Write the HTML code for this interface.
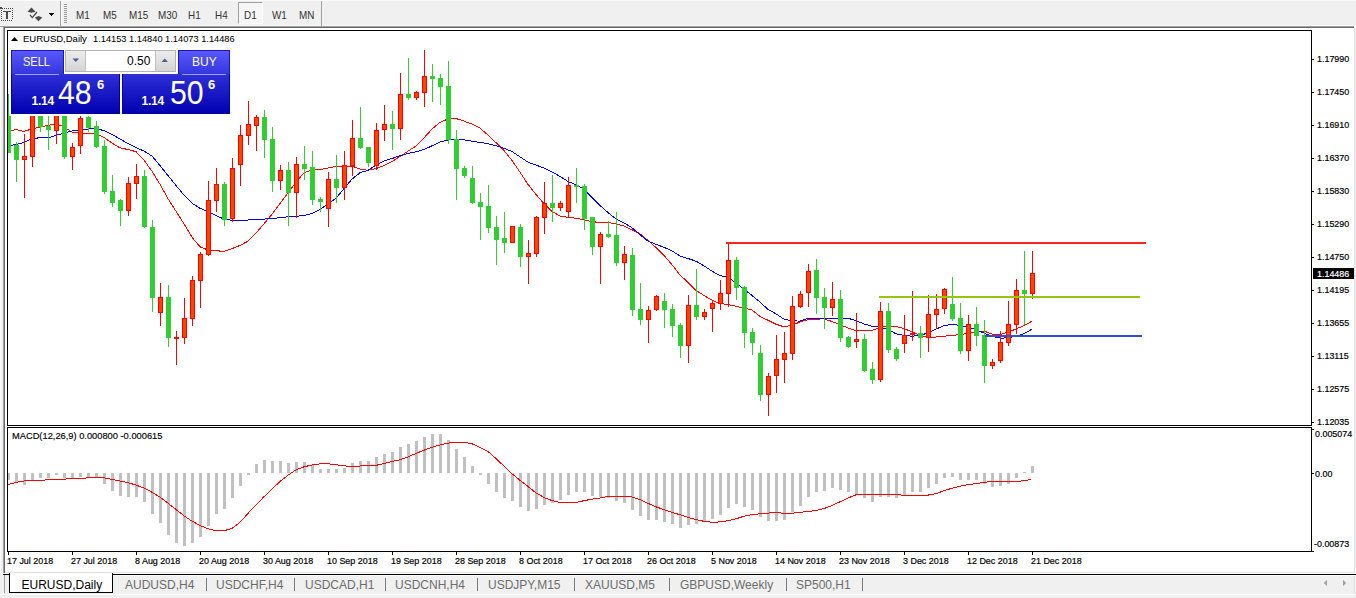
<!DOCTYPE html>
<html><head><meta charset="utf-8"><style>
*{margin:0;padding:0;box-sizing:border-box}
html,body{width:1356px;height:598px;overflow:hidden;background:#fff;font-family:"Liberation Sans",sans-serif}
.a{position:absolute}
.pl{-webkit-text-stroke:0.2px currentColor;position:absolute;left:1317px;font-size:9.6px;line-height:12px;transform:scaleX(0.93);transform-origin:0 0;color:#000;white-space:nowrap}
.dl{-webkit-text-stroke:0.2px #000;position:absolute;top:555px;font-size:9.6px;line-height:12px;transform:scaleX(0.93);transform-origin:0 0;color:#000;white-space:nowrap}
.tf{position:absolute;top:10px;font-size:10.3px;line-height:12px;color:#333;transform:scaleX(0.96);transform-origin:0 0;white-space:nowrap}
.tab{position:absolute;top:578px;font-size:12px;line-height:15px;color:#6d6d6d;white-space:nowrap}
.tsep{position:absolute;top:578px;width:1px;height:13px;background:#7a7a7a}
</style></head><body>
<div class="a" style="left:0;top:0;width:1356px;height:25px;background:#f0f0f0"></div>
<div class="a" style="left:0;top:0;width:1356px;height:1px;background:#fafafa"></div>
<div class="a" style="left:0;top:25px;width:1356px;height:1px;background:#f8f8f8"></div>
<div class="a" style="left:0;top:26px;width:1354px;height:1px;background:#a0a0a0"></div>
<div class="a" style="left:3px;top:27px;width:1351px;height:1px;background:#696969"></div>
<div class="a" style="left:0;top:27px;width:3px;height:546px;background:#f0f0f0"></div><div class="a" style="left:0;top:27px;width:1px;height:546px;background:#fbfbfb"></div>
<div class="a" style="left:3px;top:27px;width:1px;height:546px;background:#a0a0a0"></div>
<div class="a" style="left:4px;top:27px;width:1px;height:546px;background:#696969"></div>
<div class="a" style="left:1354px;top:28px;width:1px;height:545px;background:#e3e3e3"></div>
<div class="a" style="left:1355px;top:27px;width:1px;height:546px;background:#f0f0f0"></div>
<!-- toolbar icons -->
<svg class="a" style="left:0;top:0" width="70" height="26" shape-rendering="crispEdges">
<g fill="#4a4a4a">
<rect x="0" y="7" width="2" height="2"/><rect x="2" y="8" width="1" height="1"/><rect x="4" y="8" width="1" height="1"/><rect x="6" y="8" width="1" height="1"/><rect x="8" y="8" width="1" height="1"/><rect x="10" y="8" width="1" height="1"/><rect x="12" y="8" width="1" height="1"/>
<rect x="1" y="20" width="1" height="1"/><rect x="3" y="20" width="1" height="1"/><rect x="5" y="20" width="1" height="1"/><rect x="7" y="20" width="1" height="1"/><rect x="9" y="20" width="1" height="1"/><rect x="11" y="20" width="1" height="1"/>
<rect x="1" y="10" width="1" height="1"/><rect x="1" y="12" width="1" height="1"/><rect x="1" y="14" width="1" height="1"/><rect x="1" y="16" width="1" height="1"/><rect x="1" y="18" width="1" height="1"/>
<rect x="12" y="10" width="1" height="1"/><rect x="12" y="12" width="1" height="1"/><rect x="12" y="14" width="1" height="1"/><rect x="12" y="16" width="1" height="1"/><rect x="12" y="18" width="1" height="1"/>
<rect x="3" y="11" width="8" height="1"/><rect x="6" y="11" width="2" height="8"/>
<path d="M31.5 7.5 L35.5 11.8 L31.5 12.8 L27.5 11.8 Z" shape-rendering="auto"/>
<path d="M30 15 L32.3 17.6 L37 12" stroke="#4a4a4a" stroke-width="1.3" fill="none" shape-rendering="auto"/>
<path d="M38.5 16 L42.3 17.6 L38.5 21.2 L34.8 17.6 Z" shape-rendering="auto"/>
</g>
<path d="M49 13 L54 13 L51.5 16 Z" fill="#000"/>
<rect x="60" y="1" width="1" height="25" fill="#a0a0a0"/><rect x="61" y="1" width="1" height="25" fill="#fcfcfc"/>
<g fill="#9a9a9a"><rect x="64" y="4" width="3" height="1"/><rect x="64" y="6" width="3" height="1"/><rect x="64" y="8" width="3" height="1"/><rect x="64" y="10" width="3" height="1"/><rect x="64" y="12" width="3" height="1"/><rect x="64" y="14" width="3" height="1"/><rect x="64" y="16" width="3" height="1"/><rect x="64" y="18" width="3" height="1"/><rect x="64" y="20" width="3" height="1"/><rect x="64" y="22" width="3" height="1"/></g>
</svg>
<div class="a" style="left:238px;top:2px;width:25px;height:22px;border:1px solid #fff;border-top-color:#a0a0a0;border-left-color:#a0a0a0;background:#f6f6f6"></div>
<div class="tf" style="left:76px">M1</div><div class="tf" style="left:103px">M5</div><div class="tf" style="left:129px">M15</div><div class="tf" style="left:158px">M30</div><div class="tf" style="left:188px">H1</div><div class="tf" style="left:215px">H4</div><div class="tf" style="left:244px">D1</div><div class="tf" style="left:272px">W1</div><div class="tf" style="left:299px">MN</div>
<div class="a" style="left:321px;top:1px;width:1px;height:25px;background:#a0a0a0"></div>
<!-- chart svg -->
<svg class="a" style="left:0;top:0" width="1356" height="598">
<defs><clipPath id="cm"><rect x="8" y="31" width="1303" height="394"/></clipPath><clipPath id="cd"><rect x="8" y="428" width="1303" height="123"/></clipPath></defs>
<g clip-path="url(#cm)">
<polyline points="8.0,132.0 16.0,129.4 24.0,131.4 32.0,128.9 40.0,127.2 48.0,125.2 56.0,124.3 64.0,126.7 72.0,132.2 80.0,133.3 88.0,133.3 96.0,133.4 104.0,137.5 112.0,143.0 120.0,147.9 128.0,149.5 136.0,151.7 144.0,160.1 152.0,171.2 160.0,184.3 168.0,198.7 176.0,211.3 184.0,223.8 192.0,237.3 200.0,246.8 208.0,250.0 216.0,250.7 224.0,251.4 232.0,248.6 240.0,245.4 248.0,241.2 256.0,233.0 264.0,223.9 272.0,214.3 280.0,203.5 288.0,192.8 296.0,182.1 304.0,172.8 312.0,170.1 320.0,169.7 328.0,168.1 336.0,166.4 344.0,166.1 352.0,166.1 360.0,169.0 368.0,170.3 376.0,168.6 384.0,165.5 392.0,161.6 400.0,156.5 408.0,151.2 416.0,146.0 424.0,137.9 432.0,129.0 440.0,122.3 448.0,119.0 456.0,118.5 464.0,121.1 472.0,124.1 480.0,128.1 488.0,135.1 496.0,142.7 504.0,150.5 512.0,160.4 520.0,172.2 528.0,184.4 536.0,194.5 544.0,203.6 552.0,211.3 560.0,216.2 568.0,217.3 576.0,218.3 584.0,219.7 592.0,221.7 600.0,222.4 608.0,222.6 616.0,223.8 624.0,226.0 632.0,229.8 640.0,233.8 648.0,240.5 656.0,247.5 664.0,255.5 672.0,264.7 680.0,275.0 688.0,282.4 696.0,290.4 704.0,295.5 712.0,300.2 720.0,303.5 728.0,304.5 736.0,306.3 744.0,308.0 752.0,310.1 760.0,316.4 768.0,320.3 776.0,324.2 784.0,326.8 792.0,325.2 800.0,322.0 808.0,319.6 816.0,319.1 824.0,318.9 832.0,321.5 840.0,324.7 848.0,327.9 856.0,330.6 864.0,331.0 872.0,330.4 880.0,327.4 888.0,326.0 896.0,326.5 904.0,328.5 912.0,331.9 920.0,335.4 928.0,337.3 936.0,337.0 944.0,336.2 952.0,335.5 960.0,334.6 968.0,333.4 976.0,332.1 984.0,331.1 992.0,334.1 1000.0,334.5 1008.0,332.2 1016.0,329.0 1024.0,325.7 1032.0,321.2" fill="none" stroke="#ff0000" stroke-width="1" shape-rendering="crispEdges"/>
<polyline points="8.0,146.0 16.0,144.4 24.0,142.4 32.0,138.7 40.0,137.7 48.0,138.0 56.0,135.4 64.0,133.1 72.0,130.9 80.0,129.8 88.0,129.0 96.0,128.7 104.0,130.6 112.0,134.3 120.0,139.0 128.0,143.5 136.0,147.7 144.0,151.0 152.0,156.1 160.0,165.6 168.0,175.6 176.0,185.5 184.0,195.1 192.0,203.2 200.0,208.3 208.0,211.6 216.0,215.7 224.0,219.1 232.0,220.4 240.0,220.3 248.0,220.0 256.0,219.7 264.0,219.1 272.0,218.5 280.0,217.7 288.0,216.8 296.0,216.3 304.0,215.5 312.0,213.6 320.0,209.4 328.0,204.0 336.0,198.2 344.0,188.6 352.0,179.1 360.0,172.7 368.0,170.3 376.0,165.0 384.0,161.0 392.0,158.5 400.0,155.8 408.0,153.5 416.0,151.7 424.0,149.6 432.0,145.8 440.0,142.0 448.0,140.1 456.0,139.2 464.0,139.8 472.0,141.2 480.0,142.4 488.0,143.7 496.0,145.7 504.0,148.3 512.0,151.4 520.0,156.8 528.0,162.2 536.0,165.1 544.0,168.0 552.0,171.9 560.0,176.4 568.0,181.5 576.0,184.8 584.0,188.9 592.0,197.7 600.0,205.4 608.0,212.6 616.0,218.9 624.0,222.8 632.0,227.8 640.0,234.7 648.0,241.1 656.0,244.3 664.0,247.3 672.0,250.9 680.0,256.0 688.0,258.5 696.0,261.2 704.0,265.9 712.0,271.2 720.0,275.6 728.0,277.5 736.0,282.8 744.0,289.1 752.0,295.5 760.0,302.0 768.0,309.5 776.0,313.8 784.0,319.1 792.0,320.8 800.0,321.1 808.0,318.2 816.0,318.2 824.0,318.2 832.0,318.2 840.0,318.2 848.0,318.3 856.0,320.6 864.0,323.9 872.0,326.3 880.0,327.3 888.0,329.3 896.0,333.8 904.0,335.5 912.0,336.2 920.0,335.3 928.0,333.0 936.0,329.1 944.0,325.6 952.0,324.4 960.0,325.4 968.0,327.3 976.0,329.6 984.0,333.1 992.0,336.3 1000.0,338.1 1008.0,337.9 1016.0,336.1 1024.0,333.7 1032.0,329.1" fill="none" stroke="#0000e8" stroke-width="1" shape-rendering="crispEdges"/>
</g>
<g clip-path="url(#cm)" shape-rendering="crispEdges">
<rect x="8" y="94" width="1" height="59" fill="#32cd32"/>
<rect x="6" y="116" width="5" height="37" fill="#32cd32"/>
<rect x="16" y="142" width="1" height="40" fill="#32cd32"/>
<rect x="14" y="145" width="5" height="15" fill="#32cd32"/>
<rect x="24" y="134" width="1" height="64" fill="#ff0000"/>
<rect x="22" y="156" width="5" height="4" fill="#ff0000"/>
<rect x="23" y="157" width="3" height="2" fill="#ff4500"/>
<rect x="32" y="100" width="1" height="67" fill="#ff0000"/>
<rect x="30" y="100" width="5" height="57" fill="#ff0000"/>
<rect x="31" y="101" width="3" height="55" fill="#ff4500"/>
<rect x="40" y="100" width="1" height="32" fill="#32cd32"/>
<rect x="38" y="100" width="5" height="27" fill="#32cd32"/>
<rect x="48" y="100" width="1" height="50" fill="#32cd32"/>
<rect x="46" y="126" width="5" height="4" fill="#32cd32"/>
<rect x="56" y="100" width="1" height="44" fill="#ff0000"/>
<rect x="54" y="100" width="5" height="31" fill="#ff0000"/>
<rect x="55" y="101" width="3" height="29" fill="#ff4500"/>
<rect x="64" y="100" width="1" height="59" fill="#32cd32"/>
<rect x="62" y="100" width="5" height="57" fill="#32cd32"/>
<rect x="72" y="143" width="1" height="27" fill="#ff0000"/>
<rect x="70" y="147" width="5" height="10" fill="#ff0000"/>
<rect x="71" y="148" width="3" height="8" fill="#ff4500"/>
<rect x="80" y="116" width="1" height="38" fill="#ff0000"/>
<rect x="78" y="118" width="5" height="28" fill="#ff0000"/>
<rect x="79" y="119" width="3" height="26" fill="#ff4500"/>
<rect x="88" y="116" width="1" height="16" fill="#32cd32"/>
<rect x="86" y="117" width="5" height="11" fill="#32cd32"/>
<rect x="96" y="121" width="1" height="27" fill="#32cd32"/>
<rect x="94" y="126" width="5" height="21" fill="#32cd32"/>
<rect x="104" y="140" width="1" height="54" fill="#32cd32"/>
<rect x="102" y="146" width="5" height="46" fill="#32cd32"/>
<rect x="112" y="175" width="1" height="32" fill="#32cd32"/>
<rect x="110" y="191" width="5" height="12" fill="#32cd32"/>
<rect x="120" y="199" width="1" height="27" fill="#32cd32"/>
<rect x="118" y="200" width="5" height="11" fill="#32cd32"/>
<rect x="128" y="177" width="1" height="39" fill="#ff0000"/>
<rect x="126" y="183" width="5" height="28" fill="#ff0000"/>
<rect x="127" y="184" width="3" height="26" fill="#ff4500"/>
<rect x="136" y="164" width="1" height="35" fill="#ff0000"/>
<rect x="134" y="176" width="5" height="8" fill="#ff0000"/>
<rect x="135" y="177" width="3" height="6" fill="#ff4500"/>
<rect x="144" y="170" width="1" height="58" fill="#32cd32"/>
<rect x="142" y="176" width="5" height="51" fill="#32cd32"/>
<rect x="152" y="220" width="1" height="92" fill="#32cd32"/>
<rect x="150" y="227" width="5" height="71" fill="#32cd32"/>
<rect x="160" y="283" width="1" height="43" fill="#ff0000"/>
<rect x="158" y="297" width="5" height="16" fill="#ff0000"/>
<rect x="159" y="298" width="3" height="14" fill="#ff4500"/>
<rect x="168" y="285" width="1" height="62" fill="#32cd32"/>
<rect x="166" y="297" width="5" height="41" fill="#32cd32"/>
<rect x="176" y="331" width="1" height="34" fill="#ff0000"/>
<rect x="174" y="337" width="5" height="2" fill="#ff0000"/>
<rect x="184" y="298" width="1" height="46" fill="#ff0000"/>
<rect x="182" y="318" width="5" height="20" fill="#ff0000"/>
<rect x="183" y="319" width="3" height="18" fill="#ff4500"/>
<rect x="192" y="276" width="1" height="50" fill="#ff0000"/>
<rect x="190" y="280" width="5" height="39" fill="#ff0000"/>
<rect x="191" y="281" width="3" height="37" fill="#ff4500"/>
<rect x="200" y="252" width="1" height="56" fill="#ff0000"/>
<rect x="198" y="254" width="5" height="27" fill="#ff0000"/>
<rect x="199" y="255" width="3" height="25" fill="#ff4500"/>
<rect x="208" y="181" width="1" height="75" fill="#ff0000"/>
<rect x="206" y="200" width="5" height="55" fill="#ff0000"/>
<rect x="207" y="201" width="3" height="53" fill="#ff4500"/>
<rect x="216" y="168" width="1" height="44" fill="#ff0000"/>
<rect x="214" y="184" width="5" height="17" fill="#ff0000"/>
<rect x="215" y="185" width="3" height="15" fill="#ff4500"/>
<rect x="224" y="182" width="1" height="44" fill="#32cd32"/>
<rect x="222" y="184" width="5" height="36" fill="#32cd32"/>
<rect x="232" y="158" width="1" height="64" fill="#ff0000"/>
<rect x="230" y="168" width="5" height="51" fill="#ff0000"/>
<rect x="231" y="169" width="3" height="49" fill="#ff4500"/>
<rect x="240" y="125" width="1" height="61" fill="#ff0000"/>
<rect x="238" y="135" width="5" height="30" fill="#ff0000"/>
<rect x="239" y="136" width="3" height="28" fill="#ff4500"/>
<rect x="248" y="101" width="1" height="44" fill="#ff0000"/>
<rect x="246" y="124" width="5" height="12" fill="#ff0000"/>
<rect x="247" y="125" width="3" height="10" fill="#ff4500"/>
<rect x="256" y="115" width="1" height="36" fill="#ff0000"/>
<rect x="254" y="117" width="5" height="9" fill="#ff0000"/>
<rect x="255" y="118" width="3" height="7" fill="#ff4500"/>
<rect x="264" y="110" width="1" height="48" fill="#32cd32"/>
<rect x="262" y="117" width="5" height="23" fill="#32cd32"/>
<rect x="272" y="127" width="1" height="65" fill="#32cd32"/>
<rect x="270" y="139" width="5" height="42" fill="#32cd32"/>
<rect x="280" y="165" width="1" height="25" fill="#ff0000"/>
<rect x="278" y="170" width="5" height="11" fill="#ff0000"/>
<rect x="279" y="171" width="3" height="9" fill="#ff4500"/>
<rect x="288" y="162" width="1" height="64" fill="#32cd32"/>
<rect x="286" y="170" width="5" height="23" fill="#32cd32"/>
<rect x="296" y="157" width="1" height="61" fill="#ff0000"/>
<rect x="294" y="164" width="5" height="29" fill="#ff0000"/>
<rect x="295" y="165" width="3" height="27" fill="#ff4500"/>
<rect x="304" y="146" width="1" height="34" fill="#32cd32"/>
<rect x="302" y="164" width="5" height="5" fill="#32cd32"/>
<rect x="312" y="151" width="1" height="54" fill="#32cd32"/>
<rect x="310" y="167" width="5" height="33" fill="#32cd32"/>
<rect x="320" y="197" width="1" height="15" fill="#32cd32"/>
<rect x="318" y="199" width="5" height="3" fill="#32cd32"/>
<rect x="328" y="172" width="1" height="55" fill="#ff0000"/>
<rect x="326" y="179" width="5" height="30" fill="#ff0000"/>
<rect x="327" y="180" width="3" height="28" fill="#ff4500"/>
<rect x="336" y="155" width="1" height="48" fill="#32cd32"/>
<rect x="334" y="179" width="5" height="9" fill="#32cd32"/>
<rect x="344" y="151" width="1" height="49" fill="#ff0000"/>
<rect x="342" y="165" width="5" height="23" fill="#ff0000"/>
<rect x="343" y="166" width="3" height="21" fill="#ff4500"/>
<rect x="352" y="120" width="1" height="56" fill="#ff0000"/>
<rect x="350" y="138" width="5" height="28" fill="#ff0000"/>
<rect x="351" y="139" width="3" height="26" fill="#ff4500"/>
<rect x="360" y="107" width="1" height="42" fill="#32cd32"/>
<rect x="358" y="138" width="5" height="10" fill="#32cd32"/>
<rect x="368" y="147" width="1" height="20" fill="#32cd32"/>
<rect x="366" y="147" width="5" height="16" fill="#32cd32"/>
<rect x="376" y="123" width="1" height="47" fill="#ff0000"/>
<rect x="374" y="130" width="5" height="36" fill="#ff0000"/>
<rect x="375" y="131" width="3" height="34" fill="#ff4500"/>
<rect x="384" y="105" width="1" height="36" fill="#ff0000"/>
<rect x="382" y="124" width="5" height="6" fill="#ff0000"/>
<rect x="383" y="125" width="3" height="4" fill="#ff4500"/>
<rect x="392" y="111" width="1" height="39" fill="#32cd32"/>
<rect x="390" y="124" width="5" height="5" fill="#32cd32"/>
<rect x="400" y="73" width="1" height="67" fill="#ff0000"/>
<rect x="398" y="94" width="5" height="35" fill="#ff0000"/>
<rect x="399" y="95" width="3" height="33" fill="#ff4500"/>
<rect x="408" y="58" width="1" height="42" fill="#32cd32"/>
<rect x="406" y="94" width="5" height="4" fill="#32cd32"/>
<rect x="416" y="91" width="1" height="9" fill="#ff0000"/>
<rect x="414" y="92" width="5" height="6" fill="#ff0000"/>
<rect x="415" y="93" width="3" height="4" fill="#ff4500"/>
<rect x="424" y="50" width="1" height="57" fill="#ff0000"/>
<rect x="422" y="76" width="5" height="17" fill="#ff0000"/>
<rect x="423" y="77" width="3" height="15" fill="#ff4500"/>
<rect x="432" y="64" width="1" height="38" fill="#32cd32"/>
<rect x="430" y="76" width="5" height="3" fill="#32cd32"/>
<rect x="440" y="74" width="1" height="31" fill="#32cd32"/>
<rect x="438" y="78" width="5" height="9" fill="#32cd32"/>
<rect x="448" y="61" width="1" height="83" fill="#32cd32"/>
<rect x="446" y="86" width="5" height="54" fill="#32cd32"/>
<rect x="456" y="130" width="1" height="70" fill="#32cd32"/>
<rect x="454" y="139" width="5" height="30" fill="#32cd32"/>
<rect x="464" y="166" width="1" height="12" fill="#32cd32"/>
<rect x="462" y="168" width="5" height="8" fill="#32cd32"/>
<rect x="472" y="166" width="1" height="38" fill="#32cd32"/>
<rect x="470" y="178" width="5" height="25" fill="#32cd32"/>
<rect x="480" y="193" width="1" height="47" fill="#32cd32"/>
<rect x="478" y="202" width="5" height="5" fill="#32cd32"/>
<rect x="488" y="185" width="1" height="48" fill="#32cd32"/>
<rect x="486" y="206" width="5" height="22" fill="#32cd32"/>
<rect x="496" y="216" width="1" height="49" fill="#32cd32"/>
<rect x="494" y="227" width="5" height="13" fill="#32cd32"/>
<rect x="504" y="212" width="1" height="41" fill="#32cd32"/>
<rect x="502" y="238" width="5" height="5" fill="#32cd32"/>
<rect x="512" y="226" width="1" height="17" fill="#ff0000"/>
<rect x="510" y="226" width="5" height="17" fill="#ff0000"/>
<rect x="511" y="227" width="3" height="15" fill="#ff4500"/>
<rect x="520" y="224" width="1" height="43" fill="#32cd32"/>
<rect x="518" y="227" width="5" height="30" fill="#32cd32"/>
<rect x="528" y="240" width="1" height="44" fill="#ff0000"/>
<rect x="526" y="253" width="5" height="4" fill="#ff0000"/>
<rect x="527" y="254" width="3" height="2" fill="#ff4500"/>
<rect x="536" y="216" width="1" height="41" fill="#ff0000"/>
<rect x="534" y="217" width="5" height="37" fill="#ff0000"/>
<rect x="535" y="218" width="3" height="35" fill="#ff4500"/>
<rect x="544" y="182" width="1" height="52" fill="#ff0000"/>
<rect x="542" y="203" width="5" height="15" fill="#ff0000"/>
<rect x="543" y="204" width="3" height="13" fill="#ff4500"/>
<rect x="552" y="175" width="1" height="47" fill="#32cd32"/>
<rect x="550" y="203" width="5" height="5" fill="#32cd32"/>
<rect x="560" y="201" width="1" height="10" fill="#ff0000"/>
<rect x="558" y="203" width="5" height="5" fill="#ff0000"/>
<rect x="559" y="204" width="3" height="3" fill="#ff4500"/>
<rect x="568" y="177" width="1" height="40" fill="#ff0000"/>
<rect x="566" y="185" width="5" height="27" fill="#ff0000"/>
<rect x="567" y="186" width="3" height="25" fill="#ff4500"/>
<rect x="576" y="168" width="1" height="35" fill="#32cd32"/>
<rect x="574" y="185" width="5" height="2" fill="#32cd32"/>
<rect x="584" y="184" width="1" height="46" fill="#32cd32"/>
<rect x="582" y="186" width="5" height="33" fill="#32cd32"/>
<rect x="592" y="217" width="1" height="38" fill="#32cd32"/>
<rect x="590" y="217" width="5" height="30" fill="#32cd32"/>
<rect x="600" y="232" width="1" height="52" fill="#ff0000"/>
<rect x="598" y="234" width="5" height="13" fill="#ff0000"/>
<rect x="599" y="235" width="3" height="11" fill="#ff4500"/>
<rect x="608" y="221" width="1" height="17" fill="#32cd32"/>
<rect x="606" y="234" width="5" height="3" fill="#32cd32"/>
<rect x="616" y="212" width="1" height="54" fill="#32cd32"/>
<rect x="614" y="235" width="5" height="28" fill="#32cd32"/>
<rect x="624" y="246" width="1" height="34" fill="#ff0000"/>
<rect x="622" y="254" width="5" height="9" fill="#ff0000"/>
<rect x="623" y="255" width="3" height="7" fill="#ff4500"/>
<rect x="632" y="248" width="1" height="68" fill="#32cd32"/>
<rect x="630" y="255" width="5" height="55" fill="#32cd32"/>
<rect x="640" y="283" width="1" height="42" fill="#32cd32"/>
<rect x="638" y="309" width="5" height="11" fill="#32cd32"/>
<rect x="648" y="306" width="1" height="37" fill="#ff0000"/>
<rect x="646" y="310" width="5" height="10" fill="#ff0000"/>
<rect x="647" y="311" width="3" height="8" fill="#ff4500"/>
<rect x="656" y="295" width="1" height="16" fill="#ff0000"/>
<rect x="654" y="296" width="5" height="14" fill="#ff0000"/>
<rect x="655" y="297" width="3" height="12" fill="#ff4500"/>
<rect x="664" y="293" width="1" height="35" fill="#32cd32"/>
<rect x="662" y="301" width="5" height="9" fill="#32cd32"/>
<rect x="672" y="304" width="1" height="33" fill="#32cd32"/>
<rect x="670" y="309" width="5" height="17" fill="#32cd32"/>
<rect x="680" y="323" width="1" height="35" fill="#32cd32"/>
<rect x="678" y="325" width="5" height="21" fill="#32cd32"/>
<rect x="688" y="295" width="1" height="68" fill="#ff0000"/>
<rect x="686" y="305" width="5" height="41" fill="#ff0000"/>
<rect x="687" y="306" width="3" height="39" fill="#ff4500"/>
<rect x="696" y="269" width="1" height="51" fill="#32cd32"/>
<rect x="694" y="305" width="5" height="12" fill="#32cd32"/>
<rect x="704" y="309" width="1" height="11" fill="#ff0000"/>
<rect x="702" y="312" width="5" height="5" fill="#ff0000"/>
<rect x="703" y="313" width="3" height="3" fill="#ff4500"/>
<rect x="712" y="300" width="1" height="32" fill="#ff0000"/>
<rect x="710" y="303" width="5" height="6" fill="#ff0000"/>
<rect x="711" y="304" width="3" height="4" fill="#ff4500"/>
<rect x="720" y="280" width="1" height="30" fill="#ff0000"/>
<rect x="718" y="293" width="5" height="11" fill="#ff0000"/>
<rect x="719" y="294" width="3" height="9" fill="#ff4500"/>
<rect x="728" y="243" width="1" height="64" fill="#ff0000"/>
<rect x="726" y="260" width="5" height="34" fill="#ff0000"/>
<rect x="727" y="261" width="3" height="32" fill="#ff4500"/>
<rect x="736" y="257" width="1" height="43" fill="#32cd32"/>
<rect x="734" y="260" width="5" height="28" fill="#32cd32"/>
<rect x="744" y="286" width="1" height="62" fill="#32cd32"/>
<rect x="742" y="287" width="5" height="46" fill="#32cd32"/>
<rect x="752" y="328" width="1" height="27" fill="#32cd32"/>
<rect x="750" y="332" width="5" height="11" fill="#32cd32"/>
<rect x="760" y="345" width="1" height="56" fill="#32cd32"/>
<rect x="758" y="353" width="5" height="42" fill="#32cd32"/>
<rect x="768" y="373" width="1" height="43" fill="#ff0000"/>
<rect x="766" y="376" width="5" height="19" fill="#ff0000"/>
<rect x="767" y="377" width="3" height="17" fill="#ff4500"/>
<rect x="776" y="335" width="1" height="58" fill="#ff0000"/>
<rect x="774" y="359" width="5" height="17" fill="#ff0000"/>
<rect x="775" y="360" width="3" height="15" fill="#ff4500"/>
<rect x="784" y="332" width="1" height="51" fill="#ff0000"/>
<rect x="782" y="353" width="5" height="7" fill="#ff0000"/>
<rect x="783" y="354" width="3" height="5" fill="#ff4500"/>
<rect x="792" y="296" width="1" height="64" fill="#ff0000"/>
<rect x="790" y="306" width="5" height="48" fill="#ff0000"/>
<rect x="791" y="307" width="3" height="46" fill="#ff4500"/>
<rect x="800" y="291" width="1" height="17" fill="#ff0000"/>
<rect x="798" y="294" width="5" height="13" fill="#ff0000"/>
<rect x="799" y="295" width="3" height="11" fill="#ff4500"/>
<rect x="808" y="264" width="1" height="43" fill="#ff0000"/>
<rect x="806" y="271" width="5" height="22" fill="#ff0000"/>
<rect x="807" y="272" width="3" height="20" fill="#ff4500"/>
<rect x="816" y="259" width="1" height="55" fill="#32cd32"/>
<rect x="814" y="270" width="5" height="28" fill="#32cd32"/>
<rect x="824" y="288" width="1" height="41" fill="#32cd32"/>
<rect x="822" y="297" width="5" height="11" fill="#32cd32"/>
<rect x="832" y="282" width="1" height="34" fill="#ff0000"/>
<rect x="830" y="299" width="5" height="9" fill="#ff0000"/>
<rect x="831" y="300" width="3" height="7" fill="#ff4500"/>
<rect x="840" y="290" width="1" height="52" fill="#32cd32"/>
<rect x="838" y="299" width="5" height="39" fill="#32cd32"/>
<rect x="848" y="336" width="1" height="12" fill="#32cd32"/>
<rect x="846" y="337" width="5" height="10" fill="#32cd32"/>
<rect x="856" y="313" width="1" height="35" fill="#ff0000"/>
<rect x="854" y="339" width="5" height="3" fill="#ff0000"/>
<rect x="855" y="340" width="3" height="1" fill="#ff4500"/>
<rect x="864" y="334" width="1" height="38" fill="#32cd32"/>
<rect x="862" y="339" width="5" height="32" fill="#32cd32"/>
<rect x="872" y="362" width="1" height="22" fill="#32cd32"/>
<rect x="870" y="369" width="5" height="11" fill="#32cd32"/>
<rect x="880" y="302" width="1" height="80" fill="#ff0000"/>
<rect x="878" y="311" width="5" height="69" fill="#ff0000"/>
<rect x="879" y="312" width="3" height="67" fill="#ff4500"/>
<rect x="888" y="303" width="1" height="50" fill="#32cd32"/>
<rect x="886" y="311" width="5" height="39" fill="#32cd32"/>
<rect x="896" y="347" width="1" height="14" fill="#32cd32"/>
<rect x="894" y="349" width="5" height="10" fill="#32cd32"/>
<rect x="904" y="315" width="1" height="38" fill="#ff0000"/>
<rect x="902" y="335" width="5" height="9" fill="#ff0000"/>
<rect x="903" y="336" width="3" height="7" fill="#ff4500"/>
<rect x="912" y="291" width="1" height="50" fill="#ff0000"/>
<rect x="910" y="333" width="5" height="2" fill="#ff0000"/>
<rect x="920" y="326" width="1" height="32" fill="#32cd32"/>
<rect x="918" y="333" width="5" height="5" fill="#32cd32"/>
<rect x="928" y="295" width="1" height="57" fill="#ff0000"/>
<rect x="926" y="314" width="5" height="24" fill="#ff0000"/>
<rect x="927" y="315" width="3" height="22" fill="#ff4500"/>
<rect x="936" y="294" width="1" height="35" fill="#ff0000"/>
<rect x="934" y="309" width="5" height="6" fill="#ff0000"/>
<rect x="935" y="310" width="3" height="4" fill="#ff4500"/>
<rect x="944" y="288" width="1" height="26" fill="#ff0000"/>
<rect x="942" y="289" width="5" height="20" fill="#ff0000"/>
<rect x="943" y="290" width="3" height="18" fill="#ff4500"/>
<rect x="952" y="277" width="1" height="44" fill="#32cd32"/>
<rect x="950" y="304" width="5" height="15" fill="#32cd32"/>
<rect x="960" y="303" width="1" height="51" fill="#32cd32"/>
<rect x="958" y="318" width="5" height="33" fill="#32cd32"/>
<rect x="968" y="315" width="1" height="46" fill="#ff0000"/>
<rect x="966" y="324" width="5" height="27" fill="#ff0000"/>
<rect x="967" y="325" width="3" height="25" fill="#ff4500"/>
<rect x="976" y="307" width="1" height="39" fill="#32cd32"/>
<rect x="974" y="324" width="5" height="12" fill="#32cd32"/>
<rect x="984" y="320" width="1" height="63" fill="#32cd32"/>
<rect x="982" y="335" width="5" height="31" fill="#32cd32"/>
<rect x="992" y="359" width="1" height="10" fill="#ff0000"/>
<rect x="990" y="362" width="5" height="4" fill="#ff0000"/>
<rect x="991" y="363" width="3" height="2" fill="#ff4500"/>
<rect x="1000" y="331" width="1" height="32" fill="#ff0000"/>
<rect x="998" y="342" width="5" height="19" fill="#ff0000"/>
<rect x="999" y="343" width="3" height="17" fill="#ff4500"/>
<rect x="1008" y="301" width="1" height="45" fill="#ff0000"/>
<rect x="1006" y="324" width="5" height="19" fill="#ff0000"/>
<rect x="1007" y="325" width="3" height="17" fill="#ff4500"/>
<rect x="1016" y="279" width="1" height="55" fill="#ff0000"/>
<rect x="1014" y="290" width="5" height="35" fill="#ff0000"/>
<rect x="1015" y="291" width="3" height="33" fill="#ff4500"/>
<rect x="1024" y="251" width="1" height="74" fill="#32cd32"/>
<rect x="1022" y="290" width="5" height="4" fill="#32cd32"/>
<rect x="1032" y="251" width="1" height="48" fill="#ff0000"/>
<rect x="1030" y="273" width="5" height="21" fill="#ff0000"/>
<rect x="1031" y="274" width="3" height="19" fill="#ff4500"/>
</g>
<g shape-rendering="crispEdges">
<rect x="726" y="242" width="420" height="2" fill="#ff2020"/>
<rect x="879" y="296" width="261" height="2" fill="#92c80a"/>
<rect x="985" y="335" width="157" height="2" fill="#3050d0"/>
</g>
<g clip-path="url(#cd)" shape-rendering="crispEdges" fill="#c0c0c0">
<rect x="7" y="473" width="3" height="7"/>
<rect x="15" y="473" width="3" height="9"/>
<rect x="23" y="473" width="3" height="12"/>
<rect x="31" y="473" width="3" height="7"/>
<rect x="39" y="473" width="3" height="5"/>
<rect x="47" y="473" width="3" height="5"/>
<rect x="55" y="473" width="3" height="2"/>
<rect x="63" y="473" width="3" height="5"/>
<rect x="71" y="473" width="3" height="5"/>
<rect x="79" y="473" width="3" height="4"/>
<rect x="87" y="473" width="3" height="4"/>
<rect x="95" y="473" width="3" height="5"/>
<rect x="103" y="473" width="3" height="11"/>
<rect x="111" y="473" width="3" height="18"/>
<rect x="119" y="473" width="3" height="23"/>
<rect x="127" y="473" width="3" height="24"/>
<rect x="135" y="473" width="3" height="24"/>
<rect x="143" y="473" width="3" height="29"/>
<rect x="151" y="473" width="3" height="41"/>
<rect x="159" y="473" width="3" height="50"/>
<rect x="167" y="473" width="3" height="62"/>
<rect x="175" y="473" width="3" height="70"/>
<rect x="183" y="473" width="3" height="73"/>
<rect x="191" y="473" width="3" height="70"/>
<rect x="199" y="473" width="3" height="64"/>
<rect x="207" y="473" width="3" height="53"/>
<rect x="215" y="473" width="3" height="41"/>
<rect x="223" y="473" width="3" height="36"/>
<rect x="231" y="473" width="3" height="25"/>
<rect x="239" y="473" width="3" height="13"/>
<rect x="247" y="473" width="3" height="2"/>
<rect x="255" y="464" width="3" height="9"/>
<rect x="263" y="460" width="3" height="13"/>
<rect x="271" y="461" width="3" height="12"/>
<rect x="279" y="461" width="3" height="12"/>
<rect x="287" y="463" width="3" height="10"/>
<rect x="295" y="462" width="3" height="11"/>
<rect x="303" y="462" width="3" height="11"/>
<rect x="311" y="465" width="3" height="8"/>
<rect x="319" y="469" width="3" height="4"/>
<rect x="327" y="469" width="3" height="4"/>
<rect x="335" y="469" width="3" height="4"/>
<rect x="343" y="468" width="3" height="5"/>
<rect x="351" y="463" width="3" height="10"/>
<rect x="359" y="461" width="3" height="12"/>
<rect x="367" y="461" width="3" height="12"/>
<rect x="375" y="457" width="3" height="16"/>
<rect x="383" y="454" width="3" height="19"/>
<rect x="391" y="452" width="3" height="21"/>
<rect x="399" y="447" width="3" height="26"/>
<rect x="407" y="444" width="3" height="29"/>
<rect x="415" y="441" width="3" height="32"/>
<rect x="423" y="437" width="3" height="36"/>
<rect x="431" y="434" width="3" height="39"/>
<rect x="439" y="434" width="3" height="39"/>
<rect x="447" y="440" width="3" height="33"/>
<rect x="455" y="449" width="3" height="24"/>
<rect x="463" y="457" width="3" height="16"/>
<rect x="471" y="466" width="3" height="7"/>
<rect x="479" y="473" width="3" height="2"/>
<rect x="487" y="473" width="3" height="11"/>
<rect x="495" y="473" width="3" height="19"/>
<rect x="503" y="473" width="3" height="25"/>
<rect x="511" y="473" width="3" height="28"/>
<rect x="519" y="473" width="3" height="34"/>
<rect x="527" y="473" width="3" height="38"/>
<rect x="535" y="473" width="3" height="36"/>
<rect x="543" y="473" width="3" height="32"/>
<rect x="551" y="473" width="3" height="30"/>
<rect x="559" y="473" width="3" height="27"/>
<rect x="567" y="473" width="3" height="22"/>
<rect x="575" y="473" width="3" height="19"/>
<rect x="583" y="473" width="3" height="19"/>
<rect x="591" y="473" width="3" height="23"/>
<rect x="599" y="473" width="3" height="24"/>
<rect x="607" y="473" width="3" height="25"/>
<rect x="615" y="473" width="3" height="28"/>
<rect x="623" y="473" width="3" height="30"/>
<rect x="631" y="473" width="3" height="37"/>
<rect x="639" y="473" width="3" height="43"/>
<rect x="647" y="473" width="3" height="47"/>
<rect x="655" y="473" width="3" height="47"/>
<rect x="663" y="473" width="3" height="49"/>
<rect x="671" y="473" width="3" height="51"/>
<rect x="679" y="473" width="3" height="55"/>
<rect x="687" y="473" width="3" height="52"/>
<rect x="695" y="473" width="3" height="51"/>
<rect x="703" y="473" width="3" height="48"/>
<rect x="711" y="473" width="3" height="46"/>
<rect x="719" y="473" width="3" height="42"/>
<rect x="727" y="473" width="3" height="35"/>
<rect x="735" y="473" width="3" height="31"/>
<rect x="743" y="473" width="3" height="34"/>
<rect x="751" y="473" width="3" height="37"/>
<rect x="759" y="473" width="3" height="44"/>
<rect x="767" y="473" width="3" height="48"/>
<rect x="775" y="473" width="3" height="48"/>
<rect x="783" y="473" width="3" height="47"/>
<rect x="791" y="473" width="3" height="39"/>
<rect x="799" y="473" width="3" height="33"/>
<rect x="807" y="473" width="3" height="24"/>
<rect x="815" y="473" width="3" height="19"/>
<rect x="823" y="473" width="3" height="18"/>
<rect x="831" y="473" width="3" height="15"/>
<rect x="839" y="473" width="3" height="17"/>
<rect x="847" y="473" width="3" height="19"/>
<rect x="855" y="473" width="3" height="21"/>
<rect x="863" y="473" width="3" height="25"/>
<rect x="871" y="473" width="3" height="29"/>
<rect x="879" y="473" width="3" height="24"/>
<rect x="887" y="473" width="3" height="24"/>
<rect x="895" y="473" width="3" height="25"/>
<rect x="903" y="473" width="3" height="23"/>
<rect x="911" y="473" width="3" height="19"/>
<rect x="919" y="473" width="3" height="19"/>
<rect x="927" y="473" width="3" height="15"/>
<rect x="935" y="473" width="3" height="11"/>
<rect x="943" y="473" width="3" height="5"/>
<rect x="951" y="473" width="3" height="4"/>
<rect x="959" y="473" width="3" height="7"/>
<rect x="967" y="473" width="3" height="7"/>
<rect x="975" y="473" width="3" height="7"/>
<rect x="983" y="473" width="3" height="11"/>
<rect x="991" y="473" width="3" height="14"/>
<rect x="999" y="473" width="3" height="13"/>
<rect x="1007" y="473" width="3" height="11"/>
<rect x="1015" y="473" width="3" height="5"/>
<rect x="1023" y="472" width="3" height="1"/>
<rect x="1031" y="466" width="3" height="7"/>
</g>
<g clip-path="url(#cd)"><polyline points="8.4,484.3 16.0,482.4 24.0,481.0 32.0,480.5 40.0,480.2 48.0,479.9 56.0,479.5 64.0,479.1 72.0,478.7 80.0,478.3 88.0,477.9 96.0,477.5 104.0,477.8 112.0,479.4 120.0,481.0 128.0,482.7 136.0,485.0 144.0,488.1 152.0,492.2 160.0,497.2 168.0,503.2 176.0,509.5 184.0,515.8 192.0,521.1 200.0,525.5 208.0,528.8 216.0,530.8 224.0,530.8 232.0,528.3 240.0,522.3 248.0,513.4 256.0,504.8 264.0,496.7 272.0,489.0 280.0,481.5 288.0,475.2 296.0,469.9 304.0,466.8 312.0,465.0 320.0,463.8 328.0,463.7 336.0,464.7 344.0,465.9 352.0,466.4 360.0,466.0 368.0,465.5 376.0,465.3 384.0,463.7 392.0,461.4 400.0,459.8 408.0,456.9 416.0,453.4 424.0,450.2 432.0,447.3 440.0,444.9 448.0,443.1 456.0,442.3 464.0,442.3 472.0,443.8 480.0,447.3 488.0,451.5 496.0,458.5 504.0,466.2 512.0,473.8 520.0,480.3 528.0,486.5 536.0,492.9 544.0,497.5 552.0,500.6 560.0,502.4 568.0,502.4 576.0,502.4 584.0,500.7 592.0,499.1 600.0,498.0 608.0,496.3 616.0,496.2 624.0,496.2 632.0,497.0 640.0,499.7 648.0,503.3 656.0,506.8 664.0,509.6 672.0,512.3 680.0,514.8 688.0,517.3 696.0,519.7 704.0,521.3 712.0,522.3 720.0,521.9 728.0,520.7 736.0,518.8 744.0,516.2 752.0,514.5 760.0,513.8 768.0,513.1 776.0,512.4 784.0,513.3 792.0,513.2 800.0,512.4 808.0,511.5 816.0,510.4 824.0,508.6 832.0,505.5 840.0,501.8 848.0,498.0 856.0,494.8 864.0,494.0 872.0,494.0 880.0,494.0 888.0,494.0 896.0,494.5 904.0,495.4 912.0,495.4 920.0,495.4 928.0,495.1 936.0,493.6 944.0,490.8 952.0,488.2 960.0,486.2 968.0,484.7 976.0,483.6 984.0,482.4 992.0,481.4 1000.0,481.4 1008.0,481.4 1016.0,481.4 1024.0,480.8 1031.4,479.2" fill="none" stroke="#ff0000" stroke-width="1" shape-rendering="crispEdges"/></g>
<g shape-rendering="crispEdges" fill="#000">
<rect x="7" y="30" width="1305" height="1"/>
<rect x="7" y="30" width="1" height="396"/>
<rect x="1311" y="30" width="1" height="396"/>
<rect x="7" y="425" width="1305" height="1"/>
<rect x="7" y="427" width="1305" height="1"/>
<rect x="7" y="427" width="1" height="125"/>
<rect x="1311" y="427" width="1" height="125"/>
<rect x="7" y="551" width="1305" height="1"/>
<rect x="1312" y="59" width="2" height="1"/>
<rect x="1312" y="92" width="2" height="1"/>
<rect x="1312" y="125" width="2" height="1"/>
<rect x="1312" y="158" width="2" height="1"/>
<rect x="1312" y="191" width="2" height="1"/>
<rect x="1312" y="224" width="2" height="1"/>
<rect x="1312" y="257" width="2" height="1"/>
<rect x="1312" y="290" width="2" height="1"/>
<rect x="1312" y="323" width="2" height="1"/>
<rect x="1312" y="356" width="2" height="1"/>
<rect x="1312" y="389" width="2" height="1"/>
<rect x="1312" y="422" width="2" height="1"/>
<rect x="1312" y="429" width="2" height="1"/>
<rect x="1312" y="473" width="2" height="1"/>
<rect x="1312" y="551" width="2" height="1"/>
<rect x="8" y="552" width="1" height="3"/>
<rect x="72" y="552" width="1" height="3"/>
<rect x="136" y="552" width="1" height="3"/>
<rect x="200" y="552" width="1" height="3"/>
<rect x="264" y="552" width="1" height="3"/>
<rect x="328" y="552" width="1" height="3"/>
<rect x="392" y="552" width="1" height="3"/>
<rect x="456" y="552" width="1" height="3"/>
<rect x="520" y="552" width="1" height="3"/>
<rect x="584" y="552" width="1" height="3"/>
<rect x="648" y="552" width="1" height="3"/>
<rect x="712" y="552" width="1" height="3"/>
<rect x="776" y="552" width="1" height="3"/>
<rect x="840" y="552" width="1" height="3"/>
<rect x="904" y="552" width="1" height="3"/>
<rect x="968" y="552" width="1" height="3"/>
<rect x="1032" y="552" width="1" height="3"/>
</g>
</svg>
<!-- header -->
<svg class="a" style="left:10px;top:36px" width="9" height="6"><path d="M1 5 L4.5 1 L8 5 Z" fill="#000"/></svg>
<div class="a" style="left:23px;top:33px;font-size:9.5px;line-height:11px;white-space:pre;color:#000;-webkit-text-stroke:0.05px #000">EURUSD,Daily</div><div class="a" style="left:92.5px;top:33px;font-size:9.5px;line-height:11px;white-space:pre;color:#000;-webkit-text-stroke:0.05px #000;transform:scaleX(0.975);transform-origin:0 0">1.14153 1.14840 1.14073 1.14486</div>
<div class="a" style="left:12px;top:431px;font-size:9.3px;line-height:11px;white-space:pre;color:#000;-webkit-text-stroke:0.15px #000">MACD(12,26,9) 0.000800 -0.000615</div>
<div class="pl" style="top:52.5px">1.17990</div>
<div class="pl" style="top:85.5px">1.17450</div>
<div class="pl" style="top:118.5px">1.16910</div>
<div class="pl" style="top:151.5px">1.16370</div>
<div class="pl" style="top:184.5px">1.15830</div>
<div class="pl" style="top:217.5px">1.15290</div>
<div class="pl" style="top:250.5px">1.14750</div>
<div class="pl" style="top:283.5px">1.14195</div>
<div class="pl" style="top:316.5px">1.13655</div>
<div class="pl" style="top:349.5px">1.13115</div>
<div class="pl" style="top:382.5px">1.12575</div>
<div class="pl" style="top:415.5px">1.12035</div>

<div class="a" style="left:1313px;top:268px;width:41px;height:11px;background:#000"></div>
<div class="pl" style="top:267.5px;color:#fff">1.14486</div>
<div class="pl" style="top:428px;left:1315px">0.005074</div>
<div class="pl" style="top:467.5px;left:1315px">0.00</div>
<div class="pl" style="top:538px;left:1314px">-0.00873</div>
<div class="dl" style="left:7px">17 Jul 2018</div>
<div class="dl" style="left:71px">27 Jul 2018</div>
<div class="dl" style="left:135px">8 Aug 2018</div>
<div class="dl" style="left:199px">20 Aug 2018</div>
<div class="dl" style="left:263px">30 Aug 2018</div>
<div class="dl" style="left:327px">10 Sep 2018</div>
<div class="dl" style="left:391px">19 Sep 2018</div>
<div class="dl" style="left:455px">28 Sep 2018</div>
<div class="dl" style="left:519px">8 Oct 2018</div>
<div class="dl" style="left:583px">17 Oct 2018</div>
<div class="dl" style="left:647px">26 Oct 2018</div>
<div class="dl" style="left:711px">5 Nov 2018</div>
<div class="dl" style="left:775px">14 Nov 2018</div>
<div class="dl" style="left:839px">23 Nov 2018</div>
<div class="dl" style="left:903px">3 Dec 2018</div>
<div class="dl" style="left:967px">12 Dec 2018</div>
<div class="dl" style="left:1031px">21 Dec 2018</div>

<!-- trade panel -->
<div class="a" style="left:9px;top:46px;width:223px;height:70px;background:#fff"></div>
<div class="a" style="left:11px;top:50px;width:53px;height:25px;background:linear-gradient(#5858ff,#3434dc);border:1px solid #1a1ab0;border-bottom:none"></div>
<div class="a" style="left:178px;top:50px;width:52px;height:25px;background:linear-gradient(#5858ff,#3434dc);border:1px solid #1a1ab0;border-bottom:none"></div>
<div class="a" style="left:11px;top:74px;width:109px;height:40px;background:linear-gradient(#3030d8,#0000b0);border:1px solid #0000a0;border-top:none"></div>
<div class="a" style="left:122px;top:74px;width:108px;height:40px;background:linear-gradient(#3030d8,#0000b0);border:1px solid #0000a0;border-top:none"></div>
<div class="a" style="left:15px;top:74px;width:44px;height:1px;background:#9c9cff"></div>
<div class="a" style="left:182px;top:74px;width:44px;height:1px;background:#9c9cff"></div>
<div class="a" style="left:23px;top:55px;font-size:12px;line-height:14px;color:#fff;transform:scaleX(0.92);transform-origin:0 0">SELL</div>
<div class="a" style="left:192px;top:55px;font-size:12px;line-height:14px;color:#fff">BUY</div>
<div class="a" style="left:65px;top:50px;width:111px;height:22px;background:#fff;border:1px solid #b4b4b4"></div>
<div class="a" style="left:66px;top:51px;width:20px;height:20px;background:linear-gradient(#ececec,#d4d4d4);border-right:1px solid #c0c0c0"></div>
<div class="a" style="left:155px;top:51px;width:20px;height:20px;background:linear-gradient(#ececec,#d4d4d4);border-left:1px solid #c0c0c0"></div>
<svg class="a" style="left:72px;top:58px" width="8" height="5"><path d="M0.5 0.5 L7 0.5 L3.8 4 Z" fill="#4060a0"/></svg>
<svg class="a" style="left:161px;top:58px" width="8" height="5"><path d="M0.5 4 L7 4 L3.8 0.5 Z" fill="#4060a0"/></svg>
<div class="a" style="left:127px;top:54px;font-size:12px;line-height:14px;color:#000">0.50</div>
<div class="a" style="left:31.5px;top:95px;font-size:12px;line-height:13px;color:#fff;font-weight:bold;letter-spacing:-0.2px">1.14</div>
<div class="a" style="left:58px;top:75px;font-size:34px;line-height:34px;color:#fff;transform:scaleX(0.89);transform-origin:0 0">48</div>
<div class="a" style="left:97px;top:79px;font-size:13px;line-height:12px;color:#fff;font-weight:bold">6</div>
<div class="a" style="left:141.5px;top:95px;font-size:12px;line-height:13px;color:#fff;font-weight:bold;letter-spacing:-0.2px">1.14</div>
<div class="a" style="left:170px;top:75px;font-size:34px;line-height:34px;color:#fff;transform:scaleX(0.89);transform-origin:0 0">50</div>
<div class="a" style="left:208px;top:79px;font-size:13px;line-height:12px;color:#fff;font-weight:bold">6</div>
<!-- tab bar -->
<div class="a" style="left:5px;top:572px;width:1349px;height:1px;background:#e3e3e3"></div>
<div class="a" style="left:0;top:573px;width:1356px;height:25px;background:#f0f0f0"></div>
<div class="a" style="left:0;top:573px;width:1356px;height:1px;background:#fff"></div>
<div class="a" style="left:113px;top:574px;width:1243px;height:1px;background:#000"></div>
<div class="a" style="left:113px;top:575px;width:1243px;height:1px;background:#fff"></div>
<div class="a" style="left:1354px;top:576px;width:1px;height:18px;background:#e0e0e0"></div>
<div class="a" style="left:0;top:594px;width:1356px;height:1px;background:#fff"></div>
<div class="a" style="left:9px;top:573px;width:104px;height:20px;background:#fff;border:1px solid #000;border-top:none"></div>
<div class="a" style="left:3px;top:574px;width:7px;height:1px;background:#000"></div>
<div class="a" style="left:4px;top:575px;width:1px;height:18px;background:#a0a0a0"></div>
<div class="a" style="left:21.5px;top:578px;font-size:12px;line-height:15px;color:#000">EURUSD,Daily</div>
<div class="tab" style="left:125px">AUDUSD,H4</div><div class="tsep" style="left:206px"></div>
<div class="tab" style="left:216px">USDCHF,H4</div><div class="tsep" style="left:294px"></div>
<div class="tab" style="left:305px">USDCAD,H1</div><div class="tsep" style="left:385px"></div>
<div class="tab" style="left:395px">USDCNH,H4</div><div class="tsep" style="left:477px"></div>
<div class="tab" style="left:488px">USDJPY,M15</div><div class="tsep" style="left:574px"></div>
<div class="tab" style="left:585px">XAUUSD,M5</div><div class="tsep" style="left:669px"></div>
<div class="tab" style="left:680px">GBPUSD,Weekly</div><div class="tsep" style="left:786px"></div>
<div class="tab" style="left:796px">SP500,H1</div><div class="tsep" style="left:862px"></div>

<svg class="a" style="left:1318px;top:578px" width="36" height="12"><path d="M9 1.8 L9 8 L5.8 4.9 Z" fill="#a0a0a0"/><path d="M25 1.8 L25 8 L28.2 4.9 Z" fill="#a0a0a0"/></svg>
</body></html>
